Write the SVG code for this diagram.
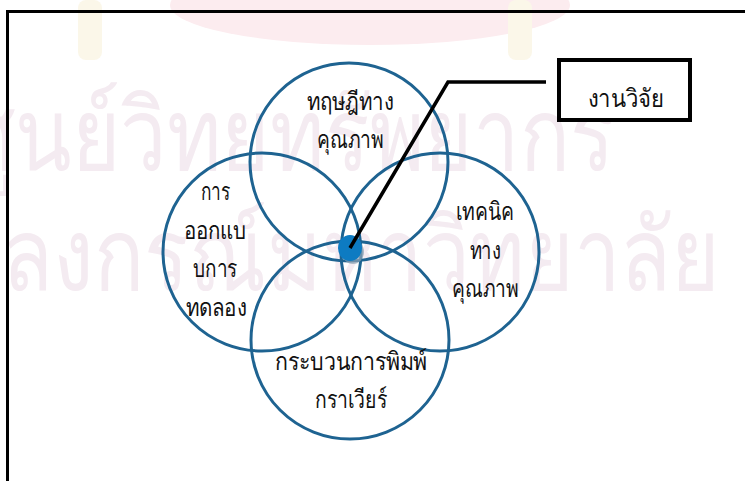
<svg xmlns="http://www.w3.org/2000/svg" width="745" height="481" viewBox="0 0 745 481">
  <style>
    .wm { font-family: "Liberation Sans", "Noto Sans", sans-serif; font-size: 100px; fill: #f4ebf1; }
    .ring { fill: none; stroke: #1e6391; stroke-width: 3; }
    .lbl { font-family: "Liberation Serif", "Noto Sans", serif; font-size: 25px; fill: #111; text-anchor: middle; }
    .lead { fill: none; stroke: #000; stroke-width: 3.5; stroke-linejoin: miter; }
  </style>
  <rect x="0" y="0" width="745" height="481" fill="#fff"/>

  <!-- faint watermark -->
  <g id="watermark">
    <ellipse cx="370" cy="5" rx="200" ry="40" fill="#fcecef"/>
    <rect x="78" y="0" width="24" height="60" rx="8" fill="#fbf7e9"/>
    <rect x="508" y="0" width="24" height="60" rx="8" fill="#fbf7e9"/>
    <text class="wm" x="-37" y="170" textLength="652" lengthAdjust="spacingAndGlyphs">ศูนย์วิทยทรัพยากร</text>
    <text class="wm" x="-150" y="290" textLength="870" lengthAdjust="spacingAndGlyphs">จุฬาลงกรณ์มหาวิทยาลัย</text>
  </g>

  <!-- frame -->
  <path d="M7.5,481 V11.5 H745" fill="none" stroke="#000" stroke-width="3"/>

  <g id="node-theory">
    <circle class="ring" cx="349" cy="162" r="99"/>
    <text class="lbl" x="350" y="110" textLength="87" lengthAdjust="spacingAndGlyphs">ทฤษฎีทาง</text>
    <text class="lbl" x="350" y="148" textLength="66" lengthAdjust="spacingAndGlyphs">คุณภาพ</text>
  </g>

  <g id="node-design">
    <circle class="ring" cx="262" cy="252" r="99"/>
    <text class="lbl" x="215" y="200" textLength="29" lengthAdjust="spacingAndGlyphs">การ</text>
    <text class="lbl" x="215" y="239" textLength="63" lengthAdjust="spacingAndGlyphs">ออกแบ</text>
    <text class="lbl" x="215" y="277" textLength="44" lengthAdjust="spacingAndGlyphs">บการ</text>
    <text class="lbl" x="216" y="316" textLength="61" lengthAdjust="spacingAndGlyphs">ทดลอง</text>
  </g>

  <g id="node-technique">
    <circle class="ring" cx="440" cy="252" r="99"/>
    <text class="lbl" x="485" y="220" textLength="59" lengthAdjust="spacingAndGlyphs">เทคนิค</text>
    <text class="lbl" x="485" y="259" textLength="31" lengthAdjust="spacingAndGlyphs">ทาง</text>
    <text class="lbl" x="485" y="297" textLength="66" lengthAdjust="spacingAndGlyphs">คุณภาพ</text>
  </g>

  <g id="node-process">
    <circle class="ring" cx="350" cy="340" r="99"/>
    <text class="lbl" x="351" y="370" textLength="152" lengthAdjust="spacingAndGlyphs">กระบวนการพิมพ์</text>
    <text class="lbl" x="351" y="408" textLength="72" lengthAdjust="spacingAndGlyphs">กราเวียร์</text>
  </g>

  <g id="node-center">
    <ellipse cx="353" cy="252" rx="11" ry="12" fill="#8fa3b3" opacity="0.7"/>
    <ellipse cx="350" cy="248" rx="12" ry="13" fill="#0d7bc2"/>
  </g>

  <g id="connectors">
    <path class="lead" d="M350,248 L448,82 H546"/>
  </g>

  <g id="node-research">
    <rect x="559" y="60" width="131" height="60" fill="#fff" stroke="#000" stroke-width="4"/>
    <text class="lbl" x="626" y="107" textLength="77" lengthAdjust="spacingAndGlyphs">งานวิจัย</text>
  </g>
</svg>
